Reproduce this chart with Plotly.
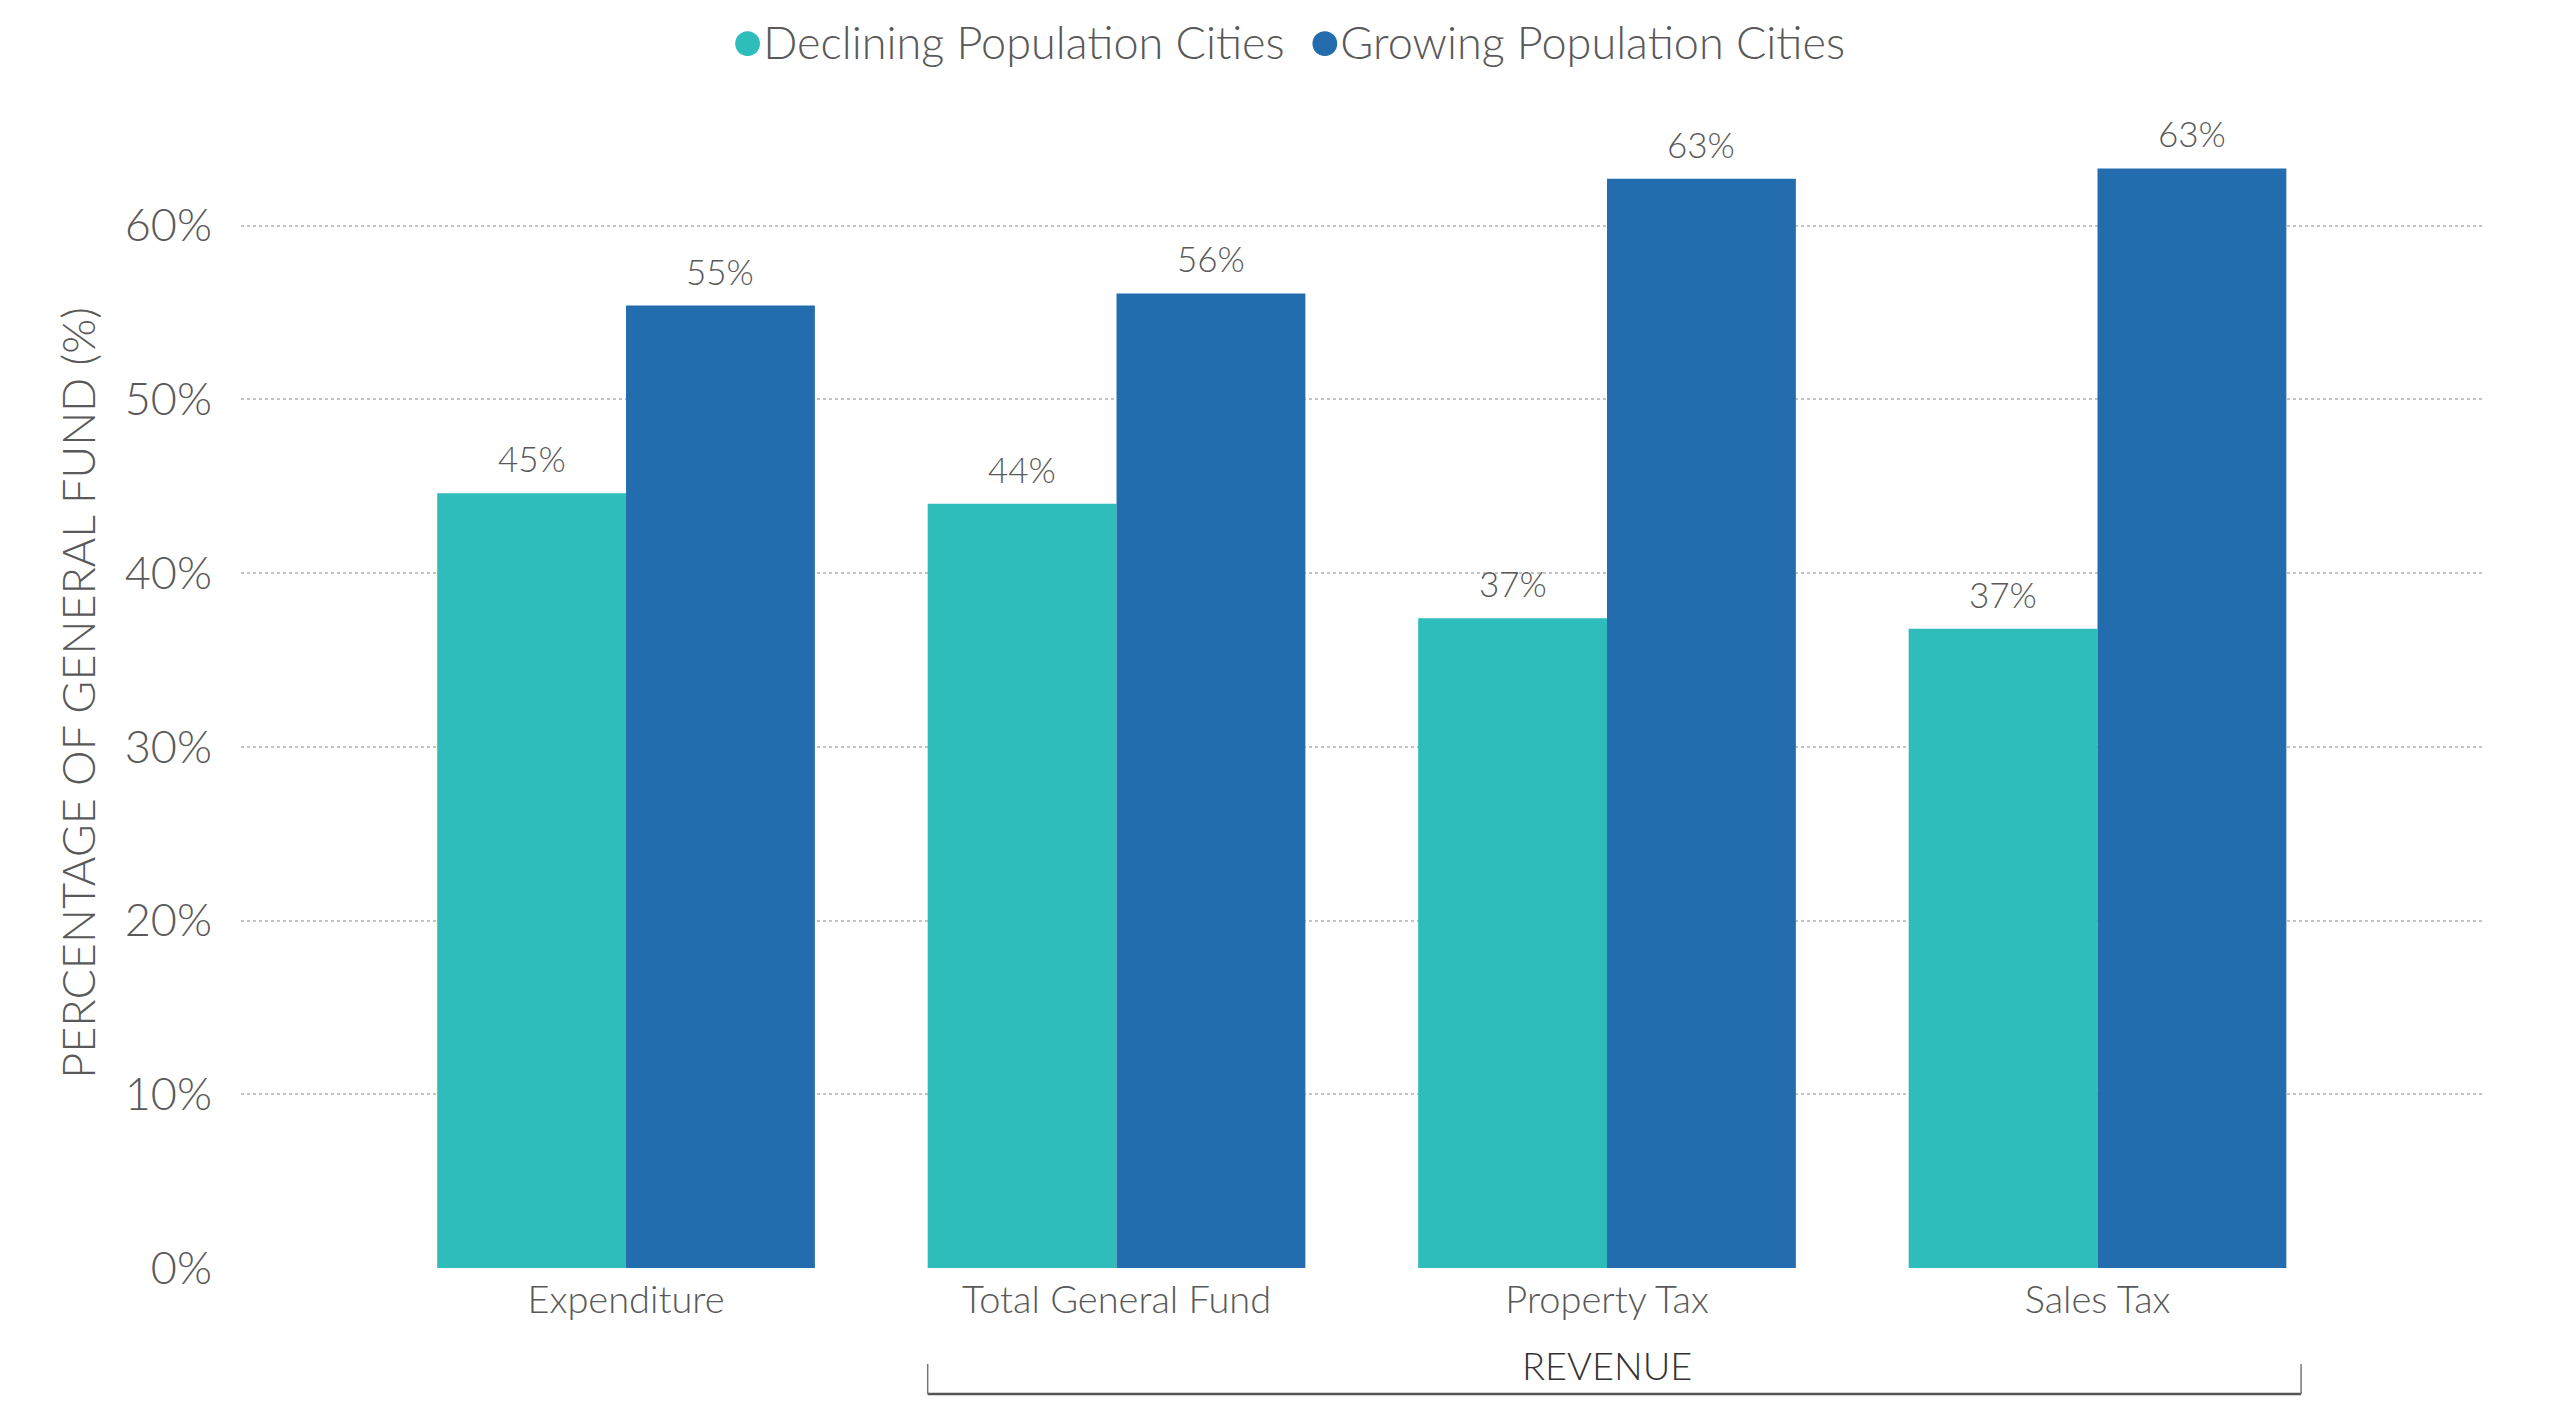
import plotly.graph_objects as go

# Data
categories = ["Expenditure", "Total General Fund", "Property Tax", "Sales Tax"]
series_names = ["Declining Population Cities", "Growing Population Cities"]
declining = [44.6, 44.0, 37.4, 36.8]
growing = [55.4, 56.1, 62.7, 63.3]
y_ticks = [0, 10, 20, 30, 40, 50, 60]
y_tick_text = ["0%", "10%", "20%", "30%", "40%", "50%", "60%"]

TEAL = "#2EBDBA"
BLUE = "#236CAE"
GREY = "#595959"
FONT = "Lato Light, Lato, sans-serif"

W, H = 2560, 1425
L, R, T, B = 233, 83, 110, 165
BARGAP = 0.23

fig = go.Figure()
for name, vals, col in [(series_names[0], declining, TEAL), (series_names[1], growing, BLUE)]:
    fig.add_trace(go.Bar(x=categories, y=vals, name=name, marker_color=col,
                         marker_line_width=0, showlegend=False))

# value labels above each bar
half = (1 - BARGAP) / 2
for k, vals in enumerate([declining, growing]):
    off = -half / 2 if k == 0 else half / 2
    for i, v in enumerate(vals):
        fig.add_annotation(x=i + off, y=v, xref="x", yref="y", text=f"{v:.0f}%",
                           showarrow=False, yanchor="bottom", yshift=12,
                           font=dict(size=35, color=GREY, family=FONT))

# legend with round markers, centred on the page
legend_text = "&nbsp;&nbsp;".join(
    f"<span style='color:{c};font-size:52px'>●</span>{n}"
    for n, c in zip(series_names, [TEAL, BLUE])
)
plot_w = W - L - R
plot_h = H - T - B
fig.add_annotation(text=legend_text, xref="paper", yref="paper",
                   x=(W / 2 - L) / plot_w, y=1 + (T - 31) / plot_h,
                   xanchor="center", yanchor="middle", showarrow=False,
                   font=dict(size=45, color=GREY, family=FONT))

fig.update_layout(
    width=W, height=H,
    barmode="group", bargap=BARGAP, bargroupgap=0,
    plot_bgcolor="white", paper_bgcolor="white",
    font=dict(family=FONT, color=GREY, size=38),
    margin=dict(l=L, r=R, t=T, b=B),
    showlegend=False,
)
fig.update_xaxes(
    range=[-0.785, 3.79], showgrid=False, showline=False, ticks="",
    tickfont=dict(size=38, color=GREY), ticklabelstandoff=6,
)
fig.update_yaxes(
    range=[0, 66.2], tickvals=y_ticks, ticktext=y_tick_text,
    showgrid=True, gridcolor="#C4C4C4", griddash="dot", gridwidth=2,
    zeroline=False, showline=False, ticks="", ticklabelstandoff=28,
    tickfont=dict(size=45, color=GREY),
    title=dict(text="PERCENTAGE OF GENERAL FUND (%)", font=dict(size=45, color=GREY), standoff=14),
)

# REVENUE bracket under the three revenue categories
y_line = -126 / plot_h
y_tick = -96 / plot_h
x_left, x_right = 1 - half, 3 + half + 0.03
fig.add_shape(type="line", xref="x", yref="paper", x0=x_left, x1=x_right, y0=y_line, y1=y_line,
              line=dict(color="#555555", width=2.5))
for xv in [x_left, x_right]:
    fig.add_shape(type="line", xref="x", yref="paper", x0=xv, x1=xv, y0=y_line, y1=y_tick,
                  line=dict(color="#777777", width=1.5))
fig.add_annotation(text="REVENUE", x=2, xref="x", y=-97 / plot_h, yref="paper", yanchor="middle",
                   showarrow=False, font=dict(size=38, color="#333333", family=FONT))

fig.write_html("out.html")
